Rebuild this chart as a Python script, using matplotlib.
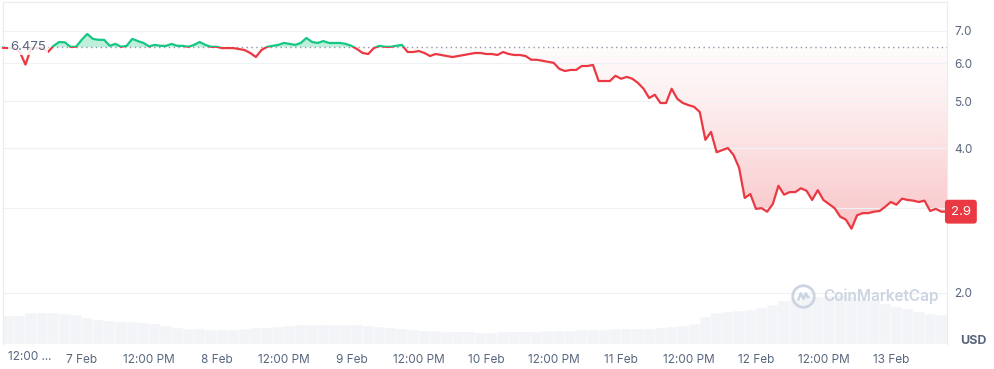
import numpy as np
import pandas as pd
import matplotlib
matplotlib.use('Agg')
import matplotlib.pyplot as plt
import matplotlib.dates as mdates
from matplotlib.path import Path
from matplotlib.patches import Rectangle
from matplotlib.colors import to_rgb
from matplotlib.ticker import NullLocator, NullFormatter

plt.rcParams['font.family'] = ['Inter', 'DejaVu Sans']

# hourly close prices, 6 Feb 10:00 -> 13 Feb 10:00
start = '2024-02-06 10:00'
price = [
    6.46, 6.45, 6.45, 6.33, 5.96, 6.45, 6.45, 6.45, 6.33, 6.52,
    6.64, 6.63, 6.49, 6.49, 6.71, 6.90, 6.74, 6.71, 6.71, 6.52,
    6.58, 6.49, 6.52, 6.74, 6.67, 6.61, 6.50, 6.55, 6.52, 6.52,
    6.58, 6.52, 6.52, 6.49, 6.55, 6.64, 6.55, 6.49, 6.49, 6.45,
    6.45, 6.45, 6.42, 6.39, 6.30, 6.18, 6.39, 6.49, 6.52, 6.55,
    6.61, 6.58, 6.55, 6.61, 6.77, 6.64, 6.61, 6.67, 6.61, 6.61,
    6.61, 6.58, 6.52, 6.42, 6.30, 6.27, 6.45, 6.52, 6.49, 6.49,
    6.52, 6.55, 6.33, 6.33, 6.36, 6.30, 6.21, 6.27, 6.24, 6.21,
    6.18, 6.21, 6.24, 6.27, 6.30, 6.30, 6.27, 6.27, 6.24, 6.33,
    6.27, 6.24, 6.24, 6.21, 6.10, 6.10, 6.07, 6.04, 6.01, 5.84,
    5.78, 5.81, 5.81, 5.92, 5.92, 5.95, 5.51, 5.51, 5.51, 5.65,
    5.57, 5.62, 5.57, 5.46, 5.31, 5.08, 5.16, 4.96, 4.96, 5.31,
    5.06, 4.96, 4.91, 4.87, 4.75, 4.16, 4.32, 3.92, 3.96, 4.00,
    3.87, 3.64, 3.15, 3.21, 2.99, 3.00, 2.95, 3.06, 3.34, 3.20,
    3.24, 3.24, 3.30, 3.26, 3.12, 3.27, 3.12, 3.06, 3.00, 2.88,
    2.84, 2.72, 2.90, 2.93, 2.93, 2.95, 2.96, 3.02, 3.09, 3.05,
    3.14, 3.12, 3.11, 3.09, 3.11, 2.96, 2.99, 2.95, 2.95,
]

# 2-hour volume bars (relative units)
volume = [
    28, 28, 31, 31, 31, 30, 29, 26, 24, 23,
    22, 22, 21, 20, 18, 16, 15, 15, 14, 14,
    14, 15, 16, 16, 17, 18, 19, 19, 19, 19,
    19, 19, 18, 17, 16, 15, 14, 13, 13, 12,
    12, 12, 11, 11, 12, 12, 12, 12, 13, 13,
    13, 14, 14, 14, 15, 15, 15, 15, 16, 17,
    18, 20, 27, 31, 32, 33, 34, 36, 39, 43,
    45, 47, 47, 48, 48, 47, 45, 43, 40, 37,
    35, 32, 30, 29,
]

open_price = 6.475
last_label = '2.9'
price_ticks = [2.0, 3.0, 4.0, 5.0, 6.0, 7.0]

GREEN = '#16c784'
RED = '#ea3943'
GREY = '#58667e'
LINE = '#e9ecf0'

times = pd.date_range(start, periods=len(price), freq='h')
vol_times = pd.date_range(start, periods=len(volume), freq='2h')
t = mdates.date2num(times)
tv = mdates.date2num(vol_times)
p = np.array(price)
ymin, ymax = 1.567, 8.04

fig = plt.figure(figsize=(9.94, 3.69), dpi=100)
pos = [3 / 994, 25 / 369, 944 / 994, 342 / 369]

# volume layer
axv = fig.add_axes(pos, zorder=0)
axv.bar(tv, volume, width=2 / 24, align='edge', color='#f2f4f7',
        edgecolor='white', linewidth=0.3)
axv.set_xlim(t[0], t[-1])
axv.set_ylim(0, 342)
axv.axis('off')

# gradient layer
axg = fig.add_axes(pos, zorder=1)
axg.axis('off')

ax = fig.add_axes(pos, zorder=2)
ax.patch.set_visible(False)
ax.set_yscale('log')
ax.set_xlim(t[0], t[-1])
ax.set_ylim(ymin, ymax)

# green area above open price
ax.fill_between(t, p, open_price, where=p >= open_price, interpolate=True,
                color=GREEN, alpha=0.28, lw=0, zorder=2)

# red gradient below open price
poly = ax.fill_between(t, p, open_price, where=p <= open_price, interpolate=True,
                       facecolor='none', lw=0)
clip = Path.make_compound_path(*poly.get_paths())
yb = (np.log(open_price) - np.log(ymin)) / (np.log(ymax) - np.log(ymin))
ylow = (np.log(2.75) - np.log(ymin)) / (np.log(ymax) - np.log(ymin))
f = np.linspace(0, 1, 500)
depth = np.clip((yb - f) / (yb - ylow), 0, 1)
img = np.zeros((len(f), 1, 4))
img[..., :3] = to_rgb(RED)
img[:, 0, 3] = 0.02 + 0.27 * depth ** 1.2
im = axg.imshow(img, extent=(0, 1, 0, 1), origin='lower', aspect='auto',
                interpolation='bilinear')
axg.set_xlim(0, 1)
axg.set_ylim(0, 1)
im.set_clip_path(clip, transform=ax.transData)

# price line, coloured by side of the open price
red_line, = ax.plot(t, p, color=RED, lw=1.6, zorder=4, solid_joinstyle='round')
green_line, = ax.plot(t, p, color=GREEN, lw=1.6, zorder=4, solid_joinstyle='round')
green_line.set_clip_path(Rectangle((t[0] - 1, open_price), 10, 100, transform=ax.transData))
red_line.set_clip_path(Rectangle((t[0] - 1, 0.01), 10, open_price - 0.01, transform=ax.transData))

ax.axhline(open_price, color='#8f98ab', lw=1, ls=(0, (1, 2.5)), zorder=3)

ax.annotate(f'{open_price}', xy=(0.0075, open_price), xycoords=ax.get_yaxis_transform(),
            ha='left', va='center', fontsize=9.5, color=GREY, zorder=6,
            bbox=dict(boxstyle='square,pad=0.12', fc='white', ec='none', alpha=0.85))

ax.annotate(last_label, xy=(1, p[-1]), xycoords=ax.get_yaxis_transform(),
            xytext=(10, 0), textcoords='offset points', ha='center', va='center',
            fontsize=9.5, color='white', zorder=10, annotation_clip=False,
            bbox=dict(boxstyle='round,pad=0.45,rounding_size=0.25', fc=RED, ec='none'))

# axes styling; the 3.0 label sits under the last-price tag, so it is left blank
ax.yaxis.tick_right()
ax.set_yticks(price_ticks)
ax.set_yticklabels(['' if v == 3.0 else f'{v:.1f}' for v in price_ticks])
ax.yaxis.set_minor_locator(NullLocator())
ax.yaxis.set_minor_formatter(NullFormatter())
ax.tick_params(axis='y', length=0, pad=5, labelsize=8.5, labelcolor=GREY)

tick_times = pd.date_range('2024-02-07', '2024-02-13', freq='12h')
ax.set_xticks(mdates.date2num(tick_times))
ax.set_xticklabels([f'{d.day} Feb' if d.hour == 0 else '12:00 PM' for d in tick_times])
ax.tick_params(axis='x', length=0, pad=7, labelsize=8.5, labelcolor=GREY)

ax.grid(axis='y', which='major', color='#eff2f5', lw=0.9)
ax.set_axisbelow(True)
for side in ['top', 'left', 'right']:
    ax.spines[side].set_color(LINE)
    ax.spines[side].set_linewidth(0.8)
ax.spines['bottom'].set_visible(False)

fig.text(8 / 994, 1 - 357 / 369, '12:00 ...', ha='left', va='center',
         fontsize=8.5, color=GREY)
fig.text(973 / 994, 1 - 341 / 369, 'USD', ha='center', va='center',
         fontsize=9, color=GREY, weight='bold')

# watermark
wm = '#cdd4e1'
ax.plot([0.8475], [0.14], transform=ax.transAxes, marker='o', ms=15.5,
        mfc='none', mec=wm, mew=2, zorder=1)
m_wave = Path([(-0.7, -0.5), (-0.35, 0.4), (0.0, -0.3), (0.3, 0.4), (0.55, -0.1), (0.8, 0.0)],
              [Path.MOVETO] + [Path.LINETO] * 5)
ax.plot([0.8475], [0.14], transform=ax.transAxes, marker=m_wave, ms=9,
        mfc='none', mec=wm, mew=1.8, zorder=1)
ax.text(0.8686, 0.14, 'CoinMarketCap', transform=ax.transAxes, fontsize=11,
        weight='semibold', color=wm, ha='left', va='center', zorder=1)

fig.savefig('out.png', dpi=100)
